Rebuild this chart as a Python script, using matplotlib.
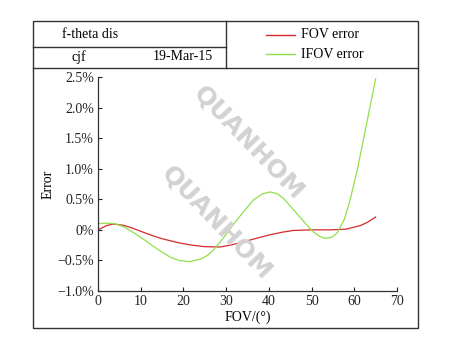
import matplotlib.pyplot as plt
from matplotlib.lines import Line2D
from matplotlib.patches import Rectangle

plt.rcParams['font.family'] = ['Liberation Serif', 'DejaVu Serif']

# FOV error (red)
fov_x = [0, 2, 3.6, 6, 8, 11, 13, 15, 18.8, 22, 25, 28.6, 31, 33.3, 37, 40.3, 43, 45.7,
         50, 54.3, 58, 61.4, 63, 65]
fov_err = [0.0, 0.07, 0.095, 0.075, 0.03, -0.05, -0.10, -0.145, -0.21, -0.25, -0.275,
           -0.28, -0.25, -0.21, -0.14, -0.08, -0.04, -0.01, 0.0, 0.0, 0.01, 0.07,
           0.12, 0.21]

# IFOV error (green)
ifov_x = [0, 2, 4, 6, 8, 11, 13, 14.9, 17, 19, 21.5, 24, 25.8, 27, 28.6, 30, 31.5,
          33.3, 36.4, 38.5, 40.3, 42, 43.5, 45, 47, 48.9, 50.5, 52, 53.2, 54.7, 56,
          57.6, 58.8, 60.7, 63.1, 65]
ifov_err = [0.10, 0.11, 0.10, 0.05, -0.03, -0.17, -0.27, -0.36, -0.45, -0.50, -0.52,
            -0.48, -0.41, -0.33, -0.20, -0.07, 0.07, 0.23, 0.49, 0.59, 0.62, 0.59,
            0.51, 0.39, 0.23, 0.08, -0.04, -0.11, -0.14, -0.12, -0.05, 0.16, 0.43,
            0.98, 1.81, 2.47]

yticks = [-1.0, -0.5, 0, 0.5, 1.0, 1.5, 2.0, 2.5]
ytick_labels = ['\u22121.0%', '\u22120.5%', '0%', '0.5%', '1.0%', '1.5%', '2.0%', '2.5%']
xticks = [0, 10, 20, 30, 40, 50, 60, 70]

fig = plt.figure(figsize=(4.63, 3.45), dpi=100)
W, H = 463, 345

def fx(px):
    return px / W

def fy(py):
    return 1 - py / H

# frame and header boxes
frame_kw = dict(transform=fig.transFigure, fill=False, edgecolor='#333333', lw=1.0)
fig.patches.append(Rectangle((fx(33), fy(328)), fx(418) - fx(33), fy(21) - fy(328), **frame_kw))
fig.add_artist(Line2D([fx(33), fx(418)], [fy(68), fy(68)], color='#333333', lw=1.0))
fig.add_artist(Line2D([fx(33), fx(226)], [fy(47), fy(47)], color='#333333', lw=1.0))
fig.add_artist(Line2D([fx(226), fx(226)], [fy(21), fy(68)], color='#333333', lw=1.0))

fig.text(fx(62), fy(34), 'f-theta dis', fontsize=10, va='center')
fig.text(fx(71), fy(57), 'cjf', fontsize=10, va='center')
fig.text(fx(153), fy(57), '19-Mar-15', fontsize=10, va='center')

fig.add_artist(Line2D([fx(266), fx(295)], [fy(35), fy(35)], color='#d42a2a', lw=1.0))
fig.add_artist(Line2D([fx(266), fx(295)], [fy(54), fy(54)], color='#8ee04a', lw=1.0))
fig.text(fx(301), fy(34), 'FOV error', fontsize=10, va='center')
fig.text(fx(301), fy(54), 'IFOV error', fontsize=10, va='center')

ax = fig.add_axes([fx(98), fy(291), fx(397) - fx(98), fy(77) - fy(291)])
ax.plot(fov_x, fov_err, color='#d42a2a', lw=0.9)
ax.plot(ifov_x, ifov_err, color='#8ee04a', lw=0.9)

ax.set_xlim(0, 70)
ax.set_ylim(-1.0, 2.5)
ax.set_xticks(xticks)
ax.set_yticks(yticks)
ax.set_yticklabels(ytick_labels)
ax.tick_params(direction='in', length=3, width=0.8, labelsize=10, pad=3, colors='#222222')
ax.spines['top'].set_visible(False)
ax.spines['right'].set_visible(False)
for s in ['left', 'bottom']:
    ax.spines[s].set_color('#333333')
    ax.spines[s].set_linewidth(0.9)
ax.set_xlabel('FOV/(\u00b0)', fontsize=10, labelpad=2)
ax.set_ylabel('Error', fontsize=10, labelpad=2)

# watermark
for cx, cy in [(249, 143), (217, 223)]:
    fig.text(fx(cx), fy(cy), 'QUANHOM', fontsize=18, fontweight='bold', family='DejaVu Sans',
             color='#d2d2d2', rotation=-46, ha='center', va='center', zorder=0)

fig.savefig('out.png', dpi=100)
